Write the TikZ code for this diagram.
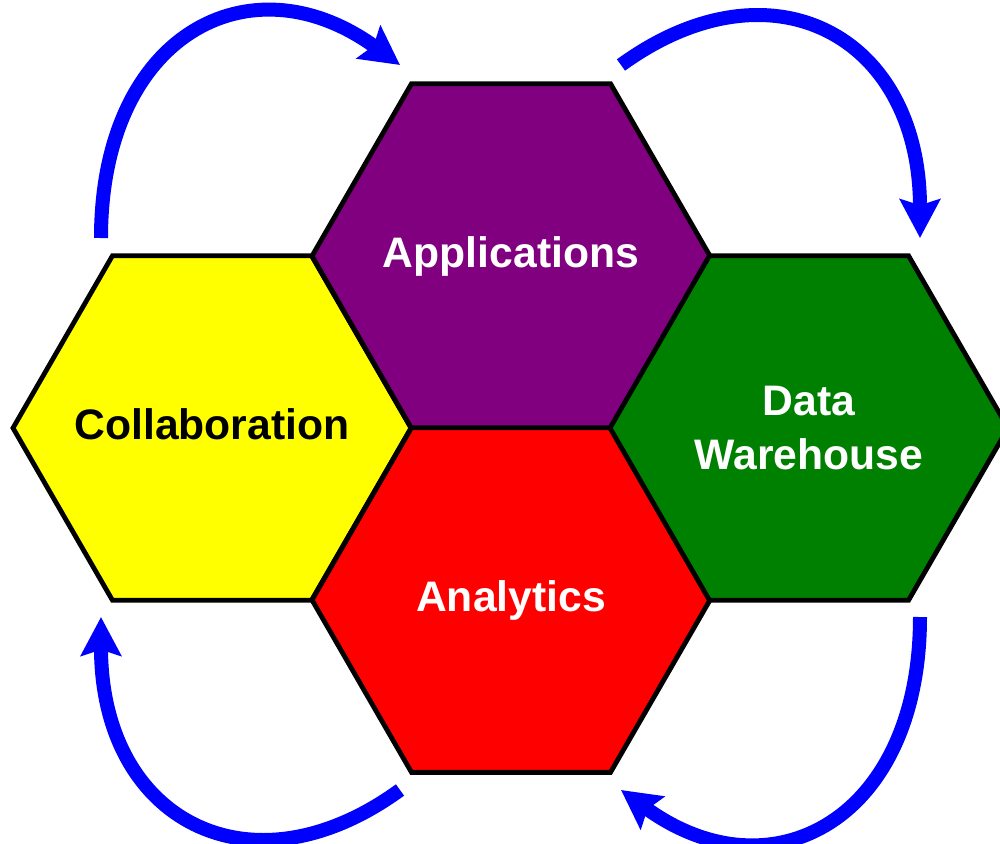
\documentclass[tikz,border=0pt]{standalone}
\usepackage{fontspec}
\setmainfont{Liberation Sans}
\usetikzlibrary{shapes.geometric,arrows.meta}

\definecolor{collyellow}{RGB}{255,255,0}
\definecolor{apppurple}{RGB}{128,0,128}
\definecolor{analred}{RGB}{255,0,0}
\definecolor{dwgreen}{RGB}{0,128,0}
\definecolor{arrowblue}{RGB}{0,0,255}

\tikzset{
	hexa/.style={regular polygon,regular polygon sides=6,minimum size=298.5pt,inner sep=-60pt,draw=black,line width=3.6pt,
		font=\fontsize{32}{40.5}\selectfont\bfseries,align=center},
	oneline/.style={text height=23pt,text depth=5.8pt},
	cyclearrow/.style={arrowblue,line width=10.5pt,-{Stealth[length=29pt,width=30pt,inset=4.5pt]}}
}

\begin{document}
\begin{tikzpicture}[x=0.75pt,y=0.75pt,yscale=-1,xscale=1]
			\useasboundingbox (0,0) rectangle (1000,843);
			
			\node[hexa,oneline,fill=collyellow,text=black] (coll) at (212,428) {Collaboration};
			\node[hexa,oneline,fill=apppurple,text=white] (apps) at (511,256) {Applications};
			\node[hexa,oneline,fill=analred,text=white] (anal) at (511,600) {Analytics};
			\node[hexa,fill=dwgreen,text=white] (dw) at (809,428) {Data\\Warehouse};
			
			\coordinate (coll-out) at (101,238);
			\coordinate (apps-in) at (400,65);
			\coordinate (apps-out) at (621,65);
			\coordinate (dw-in) at (920,238);
			\coordinate (dw-out) at (920,617);
			\coordinate (anal-in) at (621,790);
			\coordinate (anal-out) at (400,790);
			\coordinate (coll-in) at (101,617);
			
			\draw[cyclearrow] (coll-out) .. controls (101,35) and (250,-44) .. (apps-in);
			\draw[cyclearrow] (apps-out) .. controls (771,-44) and (920,35) .. (dw-in);
			\draw[cyclearrow] (dw-out) .. controls (920,820) and (771,899) .. (anal-in);
			\draw[cyclearrow] (anal-out) .. controls (250,899) and (101,820) .. (coll-in);
\end{tikzpicture}
\end{document}
